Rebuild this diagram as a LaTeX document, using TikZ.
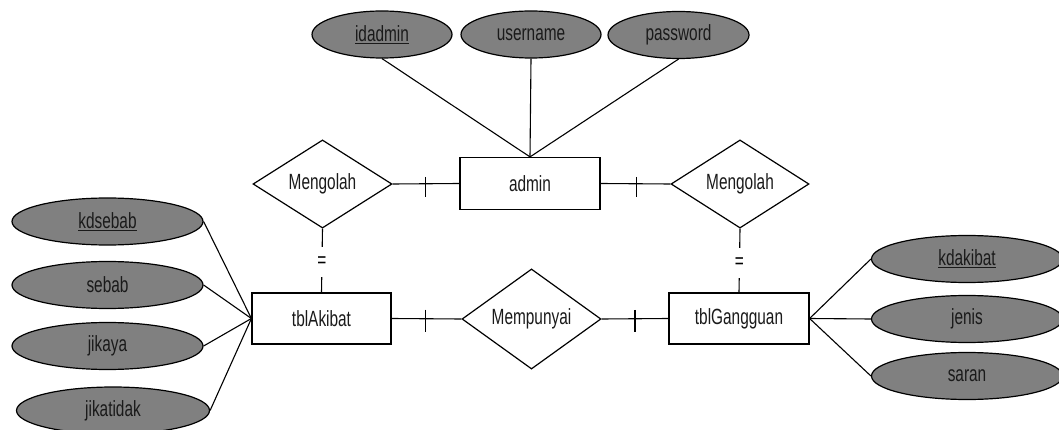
\documentclass[tikz,border=0pt]{standalone}
\usepackage{fontspec}
\setmainfont{Liberation Sans}[FakeStretch=0.7]
\usetikzlibrary{shapes.geometric}
\definecolor{attrgray}{HTML}{808080}
\definecolor{txtdark}{HTML}{1A1A1A}
\tikzset{
  every node/.style={font=\fontsize{22}{26}\selectfont, text=txtdark},
  entity/.style={draw, line width=1.2pt, rectangle, minimum width=140pt, minimum height=52pt, inner sep=0pt, fill=white},
  rel/.style={draw, line width=1.2pt, diamond, minimum width=139pt, minimum height=82pt, inner sep=0pt, fill=white},
  attr/.style={draw, line width=1.2pt, ellipse, fill=attrgray, minimum width=191pt, minimum height=47pt, inner sep=0pt},
  topattr/.style={attr, minimum width=140pt},
  conn/.style={line width=1.1pt},
  eqlabel/.style={fill=white, inner sep=0pt, minimum height=30pt, minimum width=10pt, text=black}
}
\begin{document}
\begin{tikzpicture}[x=1pt,y=-1pt]
\useasboundingbox (0,0) rectangle (1059,430);

% entities
\node[entity] (admin) at (530,183.5) {admin};
\node[entity, minimum height=51pt, minimum width=139pt] (akibat) at (321.5,318.5) {tblAkibat};
\node[entity, minimum height=51pt] (gangguan) at (739,318.5) {tblGangguan};

% relationships
\node[rel] (mL) at (322.5,184) {Mengolah};
\node[rel, minimum width=138pt] (mR) at (740,184) {Mengolah};
\node[rel] (mp) at (531.5,319) {Mempunyai};

% attributes of admin
\node[topattr] (idadmin) at (382,34.5) {\underline{idadmin}};
\node[topattr] (username) at (531,34.5) {username};
\node[topattr, minimum width=141pt] (password) at (678.5,35) {password};

% attributes of tblAkibat
\node[attr] (kdsebab) at (107.5,221.5) {\underline{kdsebab}};
\node[attr] (sebab) at (107.5,285) {sebab};
\node[attr] (jikaya) at (107.5,346) {jikaya};
\node[attr, minimum width=193pt] (jikatidak) at (113,410.5) {jikatidak};

% attributes of tblGangguan
\node[attr] (kdakibat) at (967,259) {\underline{kdakibat}};
\node[attr] (jenis) at (967,319) {jenis};
\node[attr] (saran) at (967,376) {saran};

% attribute connectors
\draw[conn] (idadmin.south) -- (admin.north);
\draw[conn] (username.south) -- (admin.north);
\draw[conn] (password.south) -- (admin.north);
\draw[conn] (kdsebab.east) -- (akibat.west);
\draw[conn] (sebab.east) -- (akibat.west);
\draw[conn] (jikaya.east) -- (akibat.west);
\draw[conn] (jikatidak.east) -- (akibat.west);
\draw[conn] (gangguan.east) -- (kdakibat.west);
\draw[conn] (gangguan.east) -- (jenis.west);
\draw[conn] (gangguan.east) -- (saran.west);

% relationship connectors with ticks
\draw[conn] (mL.east) -- coordinate[pos=0.49] (t1) (admin.west);
\draw[conn] ([yshift=7pt]t1) -- ([yshift=-13pt]t1);
\draw[conn] (admin.east) -- coordinate[pos=0.52] (t2) (mR.west);
\draw[conn] ([yshift=7pt]t2) -- ([yshift=-13pt]t2);
\draw[conn] (akibat.east) -- coordinate[pos=0.49] (t3) (mp.west);
\draw[conn] ([yshift=9pt]t3) -- ([yshift=-13pt]t3);
\draw[conn] (mp.east) -- coordinate[pos=0.5] (t4) (gangguan.west);
\draw[conn] ([yshift=9pt]t4) -- ([yshift=-13pt]t4);

% vertical connectors with "="
\draw[conn] (mL.south) -- node[eqlabel, pos=0.52] (e1) {=} (akibat.north);
\draw[conn] (mR.south) -- node[eqlabel, pos=0.54] (e2) {=} (gangguan.north);
\end{tikzpicture}
\end{document}
